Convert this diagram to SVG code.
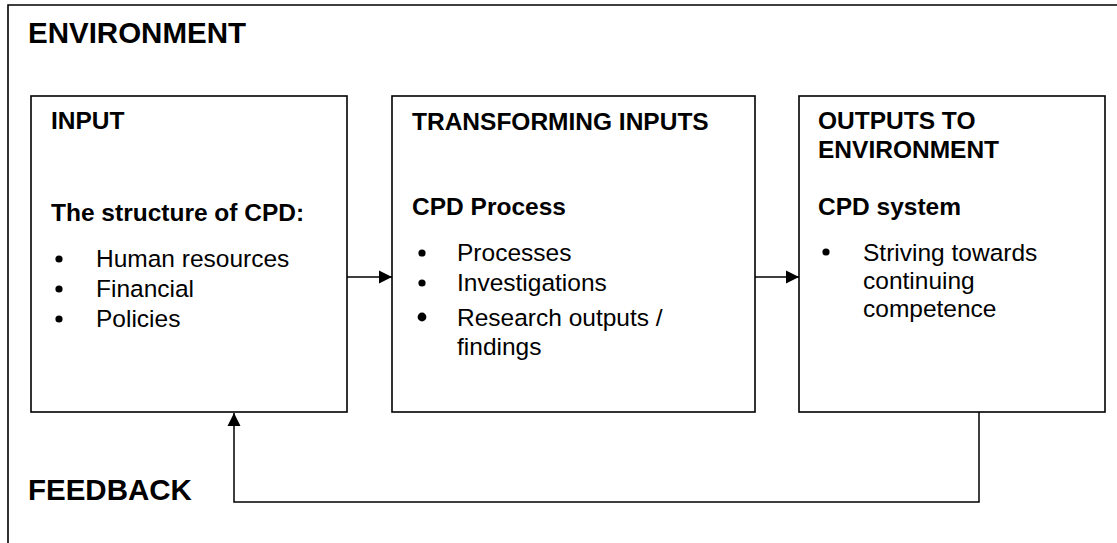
<svg xmlns="http://www.w3.org/2000/svg" width="1117" height="543" viewBox="0 0 1117 543">
<style>
.box{fill:#fff;stroke:#000;stroke-width:1.6}
.h{font-family:"Liberation Sans",Arial,sans-serif;font-weight:bold;font-size:24.5px;fill:#000}
.big{font-family:"Liberation Sans",Arial,sans-serif;font-weight:bold;font-size:29.5px;fill:#000}
.t{font-family:"Liberation Sans",Arial,sans-serif;font-size:24.5px;fill:#000}
.ln{fill:none;stroke:#000;stroke-width:1.5}
</style>
<defs>
<marker id="ah" markerUnits="userSpaceOnUse" markerWidth="14" markerHeight="14" refX="13" refY="7" orient="auto">
<path d="M0,0.5 L13,7 L0,13.5 Z" fill="#000"/>
</marker>
</defs>
<rect width="1117" height="543" fill="#fff"/>
<g id="environment">
<path d="M8,543 L8,5 L1117,5" fill="none" stroke="#000" stroke-width="1.6"/>
<text class="big" x="28" y="43">ENVIRONMENT</text>
</g>
<g id="input">
<rect class="box" x="31" y="96" width="316" height="316"/>
<text class="h" x="51" y="129">INPUT</text>
<text class="h" x="51" y="221">The structure of CPD:</text>
<circle cx="59" cy="259" r="3.6"/><text class="t" x="96" y="267">Human resources</text>
<circle cx="59" cy="289" r="3.6"/><text class="t" x="96" y="297">Financial</text>
<circle cx="59" cy="319" r="3.6"/><text class="t" x="96" y="327">Policies</text>
</g>
<g id="transforming">
<rect class="box" x="392" y="96" width="363" height="316"/>
<text class="h" x="412" y="130">TRANSFORMING INPUTS</text>
<text class="h" x="412" y="215">CPD Process</text>
<circle cx="422" cy="253" r="3.6"/><text class="t" x="457" y="261">Processes</text>
<circle cx="422" cy="283" r="3.6"/><text class="t" x="457" y="291">Investigations</text>
<circle cx="422" cy="317" r="4.4"/><text class="t" x="457" y="326">Research outputs /</text>
<text class="t" x="457" y="355">findings</text>
</g>
<g id="outputs">
<rect class="box" x="799" y="96" width="306" height="316"/>
<text class="h" x="818" y="129">OUTPUTS TO</text>
<text class="h" x="818" y="158">ENVIRONMENT</text>
<text class="h" x="818" y="215">CPD system</text>
<circle cx="826" cy="252" r="3.6"/><text class="t" x="863" y="261">Striving towards</text>
<text class="t" x="863" y="289">continuing</text>
<text class="t" x="863" y="317">competence</text>
</g>
<g id="connectors">
<line class="ln" x1="347" y1="277" x2="392" y2="277" marker-end="url(#ah)"/>
<line class="ln" x1="755" y1="277" x2="799" y2="277" marker-end="url(#ah)"/>
<polyline class="ln" points="979,412 979,502 234,502 234,413" marker-end="url(#ah)"/>
</g>
<g id="feedback">
<text class="big" x="28" y="500">FEEDBACK</text>
</g>
</svg>
